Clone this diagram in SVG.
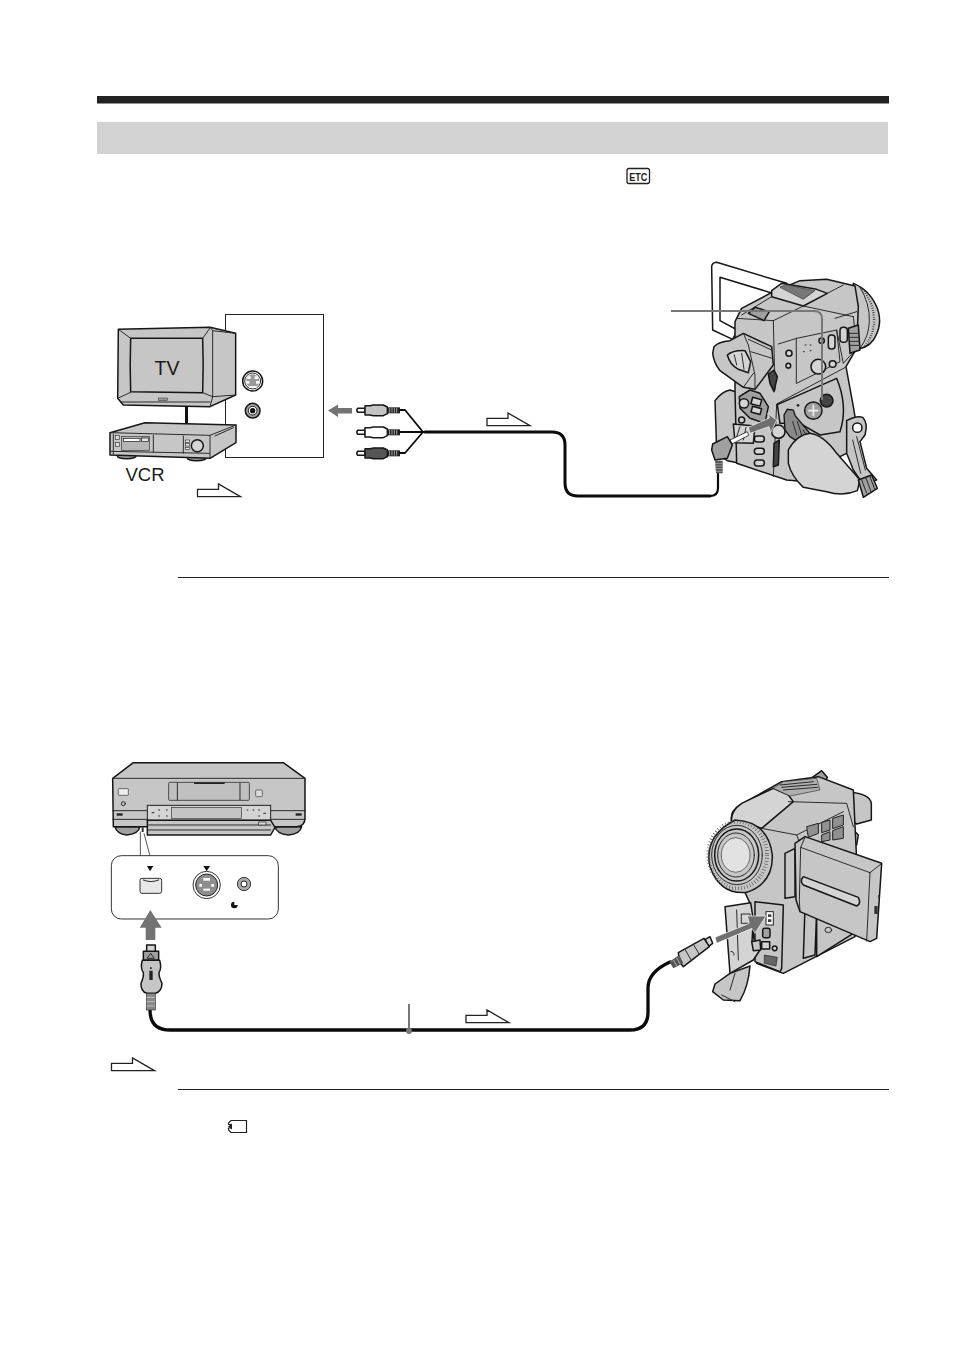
<svg xmlns="http://www.w3.org/2000/svg" xmlns:xlink="http://www.w3.org/1999/xlink" width="954" height="1352" viewBox="0 0 954 1352">
<style>
.z{stroke:#161616;stroke-width:4.500;stroke-linejoin:round;stroke-linecap:round}
.t{stroke:#2a2a2a;stroke-width:3;stroke-linejoin:round;stroke-linecap:round;fill:none}
.g{fill:#c6c6c6}.l{fill:#d4d4d4}.m{fill:#a0a0a0}.d{fill:#454545}.w{fill:#fff}.n{fill:none}
.hollow{fill:#fff;stroke:#222;stroke-width:1.300}
.rule{fill:#222}
.cable{fill:none;stroke:#0a0a0a;stroke-linejoin:round;stroke-linecap:round}
.lead{fill:none;stroke:#777;stroke-width:2}
.push{fill:#737373}
.lbl{font-family:"Liberation Sans",Arial,sans-serif;fill:#1a1a1a}
</style>
<defs>
<g id="rca">
<path class="z" d="M803,-6H825V6H803Q798,0 803,-6Z" fill="#fff"/>
<path class="z" d="M825,-14H840L850,-16H880L892,-10V10L880,16H850L840,14H825Z"/>
<path d="M892,-9H930V9H892Z" fill="#222"/>
<path d="M899,-7V7M906,-7V7M913,-7V7M920,-7V7" stroke="#ddd" stroke-width="2"/>
</g>
<path id="hollowArrow" class="hollow" d="M0,5.3H21V0L43,12.7H0Z"/>
</defs>

<g id="page-frame">
<rect class="rule" x="97" y="96" width="792" height="7.500"/>
<rect x="97" y="122" width="791" height="32" fill="#d2d2d2"/>
<rect class="rule" x="178" y="577" width="711" height="1"/>
<rect class="rule" x="178" y="1089" width="711" height="1"/>
</g>

<g id="icon-etc">
<rect x="627" y="168.500" width="22.500" height="15" rx="2" fill="#fff" stroke="#222" stroke-width="1.300"/>
<text class="lbl" x="638.200" y="180.500" font-size="10.500" font-weight="bold" text-anchor="middle" textLength="18" lengthAdjust="spacingAndGlyphs">ETC</text>
</g>
<g id="icon-card">
<path d="M231,1120.500H246.500V1132.500H231L228.500,1130V1128H231V1124.500H228.500V1123Z" fill="#fff" stroke="#222" stroke-width="1.200"/>
<path d="M228,1126.500L232,1123.500V1129.500Z" fill="#222"/>
</g>

<g id="jack-panel">
<rect x="225.500" y="314.500" width="98" height="143" fill="#fff" stroke="#222" stroke-width="1"/>
<g transform="translate(90,250) scale(.33333)">
<circle class="z w" cx="488" cy="393" r="30"/>
<circle class="t" cx="488" cy="393" r="24"/>
<circle cx="488" cy="393" r="20" fill="#9a9a9a"/>
<rect x="472" y="379" width="10" height="8" fill="#fff"/><rect x="494" y="379" width="10" height="8" fill="#fff"/>
<rect x="468" y="393" width="10" height="8" fill="#fff"/><rect x="498" y="393" width="10" height="8" fill="#fff"/>
<rect x="478" y="408" width="22" height="6" fill="#fff"/>
<circle class="z m" cx="488" cy="482" r="22"/>
<circle cx="488" cy="482" r="13" fill="#fff" stroke="#222" stroke-width="3"/>
<circle cx="488" cy="482" r="8" fill="#111"/>
</g>
</g>

<g id="tv" transform="translate(90,250) scale(.33333)">
<path class="z g" d="M85,238L360,232L437,250V435L360,470L100,465L83,445Z"/>
<path class="t" d="M360,232L368,242V440L360,470M368,242L437,250M368,440L437,435"/>
<path class="t" d="M85,238L122,265M360,234L338,265M83,445L122,427M368,440L338,428M92,456L360,456"/>
<path class="z g" d="M122,265H338Q341,345 338,428L122,425Q119,345 122,265Z"/>
<rect x="205" y="444" width="28" height="8" fill="#999" stroke="#333" stroke-width="1.500"/>
<rect x="285" y="470" width="9" height="54" fill="#111"/>
</g>
<g id="vcr" transform="translate(90,250) scale(.33333)">
<ellipse class="z m" cx="110" cy="618" rx="28" ry="8"/>
<ellipse class="z m" cx="320" cy="625" rx="28" ry="7"/>
<path class="z g" d="M60,548L165,518L438,525V578L360,625L60,615Z"/>
<path class="t" d="M60,548L360,556V625M360,556L438,525M375,558L430,533"/>
<path class="t" d="M190,556V606M280,558V610M62,604L358,610M70,552V612"/>
<rect x="95" y="560" width="83" height="42" fill="#b6b6b6" stroke="#333" stroke-width="2"/>
<rect x="100" y="565" width="50" height="9" fill="#fff" stroke="#111" stroke-width="2"/>
<rect x="155" y="564" width="20" height="11" fill="#e8e8e8" stroke="#111" stroke-width="2"/>
<rect x="76" y="556" width="12" height="12" fill="#ddd" stroke="#333" stroke-width="2"/>
<rect x="76" y="577" width="12" height="12" fill="#ddd" stroke="#333" stroke-width="2"/>
<rect x="286" y="570" width="12" height="7" fill="#eee" stroke="#333" stroke-width="2"/>
<rect x="286" y="581" width="12" height="7" fill="#eee" stroke="#333" stroke-width="2"/>
<rect x="286" y="592" width="12" height="7" fill="#eee" stroke="#333" stroke-width="2"/>
<circle class="z l" cx="322" cy="587" r="18"/>
</g>
<g id="tv-label"><text class="lbl" x="154.500" y="375" font-size="19.500">TV</text></g>
<g id="vcr-label"><text class="lbl" x="125.500" y="481" font-size="18.500">VCR</text></g>

<g id="rca-plugs" transform="translate(90,250) scale(.33333)">
<use xlink:href="#rca" href="#rca" x="0" y="481" fill="#c4c4c4"/>
<use xlink:href="#rca" href="#rca" x="0" y="547" fill="#fff"/>
<use xlink:href="#rca" href="#rca" x="0" y="610" fill="#555"/>
</g>

<g id="camcorder-1" transform="translate(640,250) scale(.33333)">
<path class="z w" d="M215,50Q216,38 230,37L440,100L392,128L240,82V212L292,240L278,268L218,240Z"/>
<path class="z g" d="M640,100Q690,120 712,175Q730,225 700,270Q680,298 640,298Z"/>
<path class="t" d="M660,112Q690,160 688,215Q686,260 662,292"/>
<path d="M668,118Q705,165 702,220Q698,262 672,292" fill="none" stroke="#222" stroke-width="7" stroke-dasharray="2 5"/>
<path class="z g" d="M225,452Q245,425 270,420L300,430V640L262,632Q230,615 230,600Z"/>
<path class="z g" d="M285,215L305,175L400,125L480,92L560,88L645,108L655,170L650,295L618,350L640,470L660,590L600,620L500,695L440,690L290,640L285,420Z"/>
<path class="z l" d="M395,122L425,100L530,118L562,130L490,168L395,140Z"/>
<path d="M420,112L435,104L525,122L490,148Z" fill="#777" stroke="#333" stroke-width="2"/>
<path class="t" d="M305,195L395,140M290,205L400,212L405,420M400,212L490,168L640,200M562,130L610,105"/>
<path class="t" d="M470,265L590,240L600,335L470,400ZM415,282L470,265M640,200L650,295M585,205L650,185M590,240L610,340L650,295M620,350L410,462L400,680"/>
<path class="z m" d="M325,190L345,172L388,185L372,212Z"/>
<rect class="z l" x="565" y="255" width="20" height="42" rx="9"/>
<rect class="z l" x="600" y="232" width="22" height="45" rx="10"/>
<path class="z m" d="M625,235L655,225L660,300L630,310Z"/>
<path class="t" d="M628,250H656M628,262H657M630,274H658M630,286H659"/>
<circle class="z l" cx="447" cy="310" r="9"/><circle class="z l" cx="445" cy="347" r="7"/>
<circle class="z l" cx="545" cy="272" r="8"/><circle class="z l" cx="578" cy="342" r="10"/>
<circle class="z l" cx="535" cy="350" r="22"/>
<path class="t" d="M495,285h3M510,285h3M490,305h3M510,302h3"/>
<path class="z g" d="M222,290Q235,275 270,272L310,250L395,290L400,345L345,418L310,412L240,362Q222,340 218,310Z"/>
<path class="t" d="M310,250L325,285L345,375L345,418M325,268L395,300M332,305L397,325M310,412L340,370"/>
<path class="z l" d="M262,315Q280,300 315,302L332,335L325,368L295,358Q270,345 262,315Z"/>
<path class="t" d="M283,315L290,345M305,310L312,358"/>
<path class="z d" d="M385,372L402,360L412,380L402,425L390,400Z"/>
<path class="z m" d="M298,440L330,420L360,430L385,470L375,520L330,505L300,475Z"/>
<circle class="z l" cx="312" cy="460" r="14"/>
<rect class="z l" x="335" y="445" width="28" height="20" transform="rotate(15 349 455)"/>
<rect class="z l" x="335" y="472" width="28" height="18" transform="rotate(15 349 481)"/>
<path class="z g" d="M412,464L590,385Q625,470 600,545L540,555L480,520L420,520Z"/>
<circle class="z m" cx="520" cy="482" r="26"/>
<path d="M505,482H535M520,465V499" stroke="#eee" stroke-width="5"/>
<circle class="z d" cx="560" cy="452" r="19"/>
<circle cx="474" cy="466" r="4" fill="#222"/>
<path class="z l" d="M280,522L345,528L340,580L285,578Z"/>
<path class="t" d="M300,530L290,560M318,532L310,570"/>
<rect class="z l" x="343" y="558" width="30" height="18" rx="9"/>
<rect class="z l" x="343" y="595" width="30" height="18" rx="9"/>
<rect class="z l" x="343" y="630" width="30" height="18" rx="9"/>
<path class="z d" d="M402,580L418,570L415,645L400,650Z"/>
<circle class="z l" cx="415" cy="545" r="20"/>
<circle class="z l" cx="305" cy="510" r="9"/>
<path class="z g" d="M620,512Q650,495 668,502Q685,520 675,555L660,575L680,655L710,690L668,700L640,660L620,610Z"/>
<circle class="z w" cx="652" cy="533" r="14"/>
<path class="t" d="M638,570L662,670M650,560L676,660"/>
<path d="M432,495L442,478L460,480L466,498L535,580L505,595L450,560L435,540Z" fill="#8a8a8a" stroke="#161616" stroke-width="4"/>
<path class="t" d="M458,515L470,555M472,515L490,570M490,540L510,580"/>
<path class="z l" d="M445,600Q470,555 510,550Q550,555 590,610L660,690L652,722Q610,740 560,725L490,712Q455,680 445,640Z"/>
<path class="z m" d="M655,690L695,675L712,715L670,742Z"/>
<path class="t" d="M665,690L680,730M678,684L693,725M690,680L704,718"/>
<path d="M325,532L388,504L383,490L410,510L392,548L387,530L330,550Z" fill="#6f6f6f" stroke="#fff" stroke-width="2"/>
<path d="M270,570L322,545L326,556L276,582Z" fill="#fff" stroke="#222" stroke-width="2.500"/>
<path class="z m" d="M218,582L262,560L277,585L262,625L225,630L215,600Z"/>
<path d="M225,632H248V670H228Z" fill="#555"/>
<path d="M225,640H248M226,648H248M227,656H248M228,664H248" stroke="#ddd" stroke-width="1.500"/>
</g>

<g id="connectors">
<path class="cable" style="stroke-width:3" d="M425,432H552Q565,432 565,445V483Q565,496 578,496H710"/>
<path class="cable" style="stroke-width:2.200" d="M708,496H710Q718,496 718,488V474"/>
<path class="cable" style="stroke-width:1.800" d="M400,410H405L423,432L405,453H400M400,432H424"/>
<path class="cable" style="stroke-width:3.300" d="M150,1010Q150,1030 170,1030H630Q648,1030 648,1012V988Q648,972 670,962"/>
<path class="lead" d="M671,311H814Q822,311 822,319V400"/>
<path class="lead" d="M409,1004V1030"/>
<circle cx="409" cy="1031" r="3" fill="#777"/>
<path class="push" d="M328,410.500L338,404.500V408H352V413.500H338V417Z"/>
<use href="#hollowArrow" xlink:href="#hollowArrow" x="197.500" y="484"/>
<use href="#hollowArrow" xlink:href="#hollowArrow" x="487" y="413"/>
<use href="#hollowArrow" xlink:href="#hollowArrow" x="466" y="1010"/>
<use href="#hollowArrow" xlink:href="#hollowArrow" x="111.500" y="1058"/>
</g>

<g id="dv-deck" transform="translate(100,750) scale(.33333)">
<path class="z m" d="M45,230Q50,252 80,255Q115,253 120,230Z"/>
<path class="z m" d="M525,230Q530,252 565,255Q600,253 605,230Z"/>
<path class="z g" d="M38,85L100,38H550L615,85V205Q615,228 590,230H40Z"/>
<path class="t" d="M38,85H615M38,182H142M510,182H615M38,208H142M510,208H615"/>
<rect x="206" y="97" width="242" height="54" rx="3" fill="#c0c0c0" stroke="#333" stroke-width="2.500"/>
<path class="t" d="M232,100V150M420,100V150"/>
<rect x="282" y="97" width="92" height="5" fill="#222"/>
<rect x="55" y="116" width="30" height="20" rx="2" fill="#eee" stroke="#333" stroke-width="2"/>
<circle class="t" cx="70" cy="161" r="6"/>
<rect x="467" y="120" width="20" height="20" rx="3" fill="#ddd" stroke="#333" stroke-width="2"/>
<rect x="50" y="190" width="18" height="7" fill="#222"/><rect x="587" y="190" width="18" height="7" fill="#222"/>
<rect x="142" y="166" width="370" height="45" fill="#d4d4d4" stroke="#222" stroke-width="3"/>
<rect x="214" y="172" width="210" height="33" fill="#c4c4c4" stroke="#333" stroke-width="2"/>
<path d="M155,188h8M175,180h5M175,198h5M198,180h5M198,198h5M440,180h5M458,180h5M475,180h5M475,198h5M490,190h8" stroke="#222" stroke-width="3"/>
<path class="z g" d="M142,211H512L525,232L512,255H142Z"/>
<path class="t" d="M142,225H512M142,240H512"/>
<rect x="476" y="216" width="22" height="9" fill="#ddd" stroke="#222" stroke-width="2"/>
<rect x="125" y="232" width="6" height="14" fill="#333"/>
<path d="M121,245V318M132,250L150,318" fill="none" stroke="#333" stroke-width="2.500"/>
</g>
<g id="dv-panel" transform="translate(100,750) scale(.33333)">
<rect x="34" y="317" width="501" height="190" rx="30" fill="#fff" stroke="#333" stroke-width="3"/>
<path d="M141,348H160L150,364Z" fill="#111"/>
<path d="M310,348H330L320,364Z" fill="#111"/>
<rect x="120" y="385" width="65" height="45" rx="6" fill="#e8e8e8" stroke="#333" stroke-width="3"/>
<path class="t" d="M130,390Q152,400 176,390"/>
<circle cx="320" cy="405" r="41" fill="#fff" stroke="#333" stroke-width="3"/>
<circle cx="320" cy="405" r="33" fill="#8e8e8e" stroke="#222" stroke-width="3"/>
<rect x="310" y="384" width="20" height="8" fill="#fff"/><rect x="298" y="402" width="8" height="8" fill="#fff"/><rect x="334" y="402" width="8" height="8" fill="#fff"/><rect x="310" y="416" width="20" height="6" fill="#fff"/>
<circle cx="432" cy="402" r="20" fill="#aaa" stroke="#333" stroke-width="3"/>
<circle cx="432" cy="402" r="9" fill="#fff" stroke="#222" stroke-width="3"/>
<path d="M403,455A10,10 0 1 0 413,465H403Z" fill="#111"/>
<path class="push" d="M151,480L185,533H166V570H137V533H119Z"/>
</g>
<g id="dv-plug" transform="translate(100,750) scale(.33333)">
<rect class="z l" x="140" y="585" width="26" height="20"/>
<rect class="z m" x="130" y="604" width="46" height="27"/>
<path class="t" d="M142,624L152,610L162,624Z"/>
<path class="z g" d="M127,631H179Q186,655 177,668Q176,680 186,700Q186,725 166,730H140Q122,725 123,700Q132,680 130,668Q120,655 127,631Z"/>
<path d="M148,662H158V690H148ZM150,652h5v5h-5Z" fill="#222"/>
<rect x="139" y="730" width="27" height="50" fill="#888" stroke="#333" stroke-width="2"/>
<path d="M140,742H165M140,755H165M140,768H165" stroke="#ddd" stroke-width="2"/>
</g>

<g id="camcorder-2" transform="translate(640,760) scale(.33333)">
<path class="z m" d="M500,65L545,32L562,52L555,70L530,80Z"/>
<path class="z g" d="M620,95Q690,100 694,130V180L650,192L600,160Z"/>
<path class="z g" d="M640,210L655,225L650,255L630,245Z"/>
<path class="z g" d="M275,185Q268,155 300,135L425,65L535,50L640,90L650,300L645,530L430,640L350,610L330,430L270,300Z"/>
<path class="z l" d="M275,185Q270,155 305,130L400,85L445,105L460,125L365,205Q320,190 275,185Z"/>
<path d="M400,85L430,65L530,55L540,90L450,108Z" fill="#b0b0b0" stroke="#333" stroke-width="2"/>
<path class="t" d="M420,75L520,65M425,82L530,73M430,90L533,82"/>
<path class="t" d="M365,205L470,225L480,250M445,125L620,130L640,200M470,225L610,155"/>
<g fill="#909090" stroke="#222" stroke-width="3">
<path d="M500,200L535,190L535,220L505,232Z"/><path d="M545,187L570,180L570,210L545,218Z"/><path d="M578,175L610,165L610,195L578,206Z"/>
<path d="M545,225L570,215L570,240L545,245Z"/><path d="M578,212L610,200L610,235L578,240Z"/>
</g>
<path class="z g" d="M435,280L465,265L465,410L435,415Z"/>
<path class="z g" d="M495,440L530,455L525,585L490,595Z"/>
<path class="z g" d="M530,460L640,520L530,590Z"/>
<ellipse class="t" cx="565" cy="510" rx="10" ry="8"/>
<path class="z g" d="M465,250L495,230L725,310L710,535L690,545L480,455L468,420Z"/>
<path class="t" d="M482,262L690,338M495,232L482,262L478,420L480,455M690,338L680,543M690,338L723,312"/>
<path class="z l" d="M490,350L655,412Q665,430 650,438L490,375Q478,362 490,350Z"/>
<rect x="703" y="438" width="10" height="24" fill="#333"/><rect x="715" y="405" width="5" height="10" fill="#222"/>
<path class="z g" d="M345,425L430,435L425,625L420,635L345,605Z"/>
<rect x="378" y="455" width="22" height="40" fill="#fff" stroke="#222" stroke-width="3"/>
<path d="M384,463h10v8h-10zM384,478h10v8h-10z" fill="#444"/>
<rect class="z m" x="368" y="505" width="22" height="28" rx="6"/>
<rect class="z l" x="365" y="545" width="24" height="22"/>
<circle class="z l" cx="404" cy="565" r="7"/>
<path d="M373,585L412,592L408,618L373,610Z" fill="#666" stroke="#222" stroke-width="2"/>
<path class="z g" d="M285,180Q385,185 397,285Q400,370 320,397Q240,405 210,320Q190,230 285,180Z"/>
<ellipse cx="293" cy="285" rx="88" ry="100" fill="none" stroke="#555" stroke-width="12" stroke-dasharray="2 7"/>
<ellipse class="t" cx="291" cy="285" rx="76" ry="89"/>
<ellipse class="z g" cx="290" cy="285" rx="66" ry="78"/>
<ellipse class="t" cx="288" cy="285" rx="55" ry="66"/>
<ellipse cx="287" cy="285" rx="43" ry="52" fill="#e2e2e2" stroke="#333" stroke-width="2"/>
<path class="z l" d="M255,440L332,428L340,480L336,545L360,570L340,600L270,640Z"/>
<path class="t" d="M290,450L295,600M305,462h25v28h-25zM272,575a8,8 0 0 1 10,10"/>
<path class="z g" d="M335,545L360,540L362,570L340,572Z"/>
<path class="z g" d="M270,640L330,618Q325,680 300,722L250,720L218,695L225,672Z"/>
<path class="t" d="M245,705L285,725M285,640L270,690"/>
<path d="M225,532L328,490L322,468L378,468L345,520L336,505L230,550Z" fill="#6f6f6f" stroke="#fff" stroke-width="2"/>
<path class="z l" d="M196,538L210,530L218,550L205,560Z"/>
<path class="z g" d="M115,578L192,535L208,560L130,620L118,605Z"/>
<path class="t" d="M135,568L155,603M160,553L178,583"/>
<path d="M88,605L118,585L130,610L100,625Z" fill="#555"/>
<path d="M100,600L110,618M110,593L120,612" stroke="#ddd" stroke-width="2"/>
</g>
</svg>
